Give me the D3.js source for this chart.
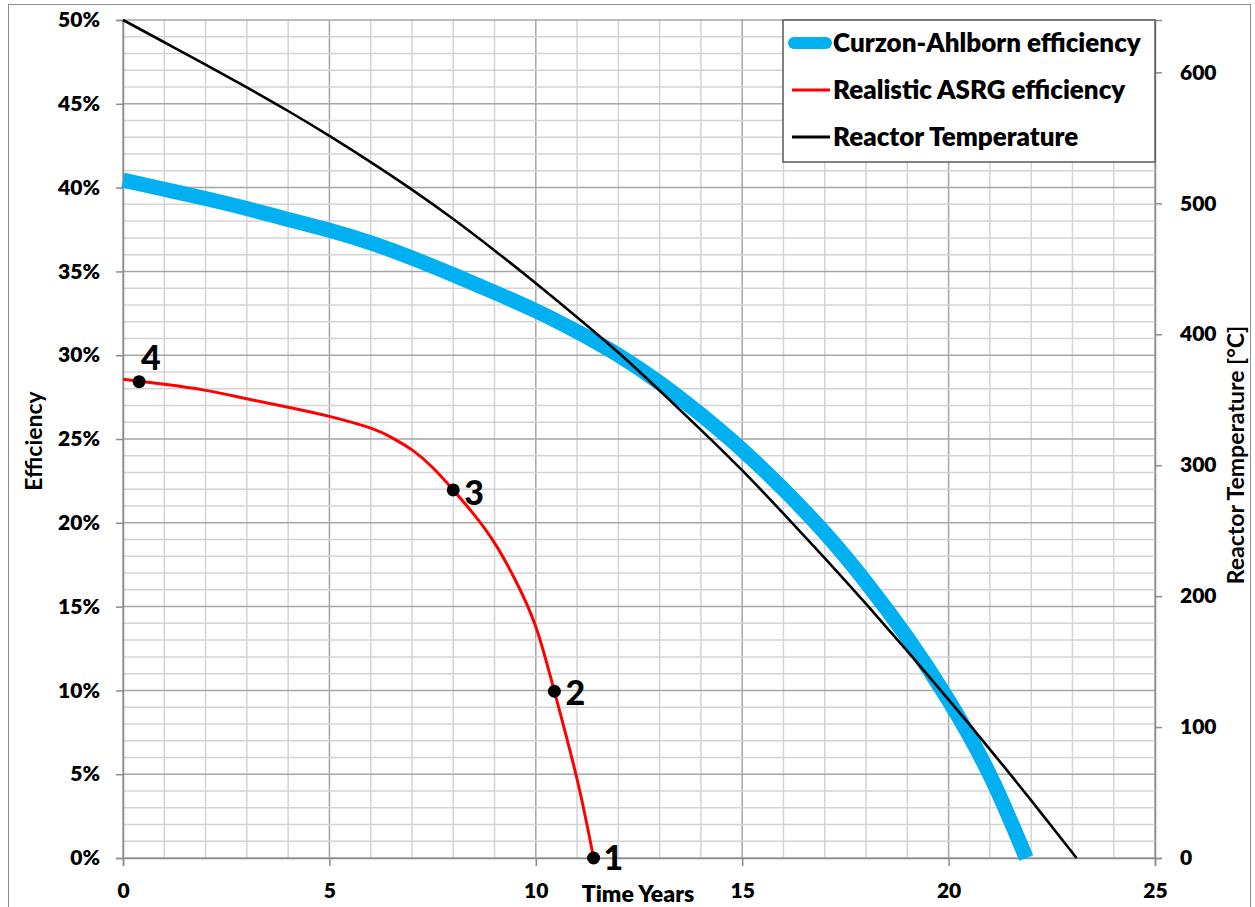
<!DOCTYPE html>
<html><head><meta charset="utf-8">
<script src="https://cdn.jsdelivr.net/npm/d3@7"></script>
<style>body{margin:0;background:#fff}svg{display:block}text{font-family:Lato,'Open Sans',sans-serif;font-weight:800;fill:#000}</style>
</head><body><svg id="c" width="1255" height="907"></svg>
<script>
// time (years) and values
const caTime = [0,1,2,3,4,5,6,7,8,9,10,11,12,13,14,15,16,17,18,19,20,21,21.88];
const caEff  = [40.45,39.9,39.35,38.75,38.1,37.45,36.7,35.8,34.8,33.75,32.65,31.4,30.0,28.35,26.45,24.35,22.0,19.4,16.45,13.15,9.4,4.95,0];
const asrgTime = [0,1,2,3,4,5,6,6.5,7,7.5,8,8.5,9,9.5,10,10.45,11,11.4];
const asrgEff  = [28.56,28.26,27.9,27.4,26.9,26.35,25.65,25.1,24.35,23.3,21.96,20.5,18.8,16.6,13.8,9.95,4.7,0];
const tempTime = [0,1,2,3,4,5,6,7,8,9,10,11,12,13,14,15,16,17,18,19,20,21,22,23.1];
const tempC    = [640,623,606,588.5,570.5,551.5,531.5,510.5,488,464,439,413,386,357,327,296,263,229,194,158,121,83,44,0];
const pointLabels = ["4","3","2","1"];
const pointTime = [0.39,8.0,10.45,11.4];
const pointEff  = [28.42,21.96,9.95,0];
const xTicks = [0,5,10,15,20,25];
const yLTicks = [0,5,10,15,20,25,30,35,40,45,50];
const yRTicks = [0,100,200,300,400,500,600];
const legendLabels = ["Curzon-Ahlborn efficiency","Realistic ASRG efficiency","Reactor Temperature"];
const colors = ["#00B0F0","#FF0000","#000000"];

const svg = d3.select("#c");
const L=123,R=1155,T=20,B=858;
const x = d3.scaleLinear().domain([0,25]).range([L,R]);
const yL = d3.scaleLinear().domain([0,50]).range([B,T]);
const yR = d3.scaleLinear().domain([0,640]).range([B,T]);

// outer border
svg.append("rect").attr("x",8.5).attr("y",4.5).attr("width",1242).attr("height",910)
  .attr("fill","none").attr("stroke","#8c8c8c").attr("stroke-width",1);

// grid
const g = svg.append("g");
d3.range(0,26).forEach(v=>{
  const major = v%5===0;
  g.append("line").attr("x1",x(v)).attr("x2",x(v)).attr("y1",T).attr("y2",B)
   .attr("stroke",major?"#a6a6a6":"#d4d4d4").attr("stroke-width",1.5);
});
d3.range(0,51).forEach(v=>{
  const major = v%5===0;
  g.append("line").attr("x1",L).attr("x2",R).attr("y1",yL(v)).attr("y2",yL(v))
   .attr("stroke",major?"#a6a6a6":"#d4d4d4").attr("stroke-width",1.5);
});

// axes
const ax = svg.append("g").attr("transform",`translate(0,${B})`)
  .call(d3.axisBottom(x).tickValues(xTicks).tickSize(8).tickPadding(17).tickFormat(d3.format("d")));
const ayl = svg.append("g").attr("transform",`translate(${L},0)`)
  .call(d3.axisLeft(yL).tickValues(yLTicks).tickSize(7).tickPadding(16).tickFormat(d=>d+"%"));
const ayr = svg.append("g").attr("transform",`translate(${R},0)`)
  .call(d3.axisRight(yR).tickValues(yRTicks).tickSize(7).tickPadding(18).tickFormat(d3.format("d")));
[ax,ayl,ayr].forEach(a=>{
  a.selectAll("path").attr("stroke","#8c8c8c").attr("stroke-width",1.5);
  a.selectAll("line").attr("stroke","#8c8c8c").attr("stroke-width",1.5);
  a.selectAll("text").style("font-family","Lato,'Open Sans',sans-serif").style("font-weight","800").style("font-size","21px").attr("fill","#000");
});

// series
const lineY = d3.line().curve(d3.curveNatural);
const caPts = caTime.map((t,i)=>[x(t),yL(caEff[i])]);
const asPts = asrgTime.map((t,i)=>[x(t),yL(asrgEff[i])]);
const tPts  = tempTime.map((t,i)=>[x(t),yR(tempC[i])]);
svg.append("path").attr("d",lineY(caPts)).attr("fill","none").attr("stroke",colors[0]).attr("stroke-width",15);
svg.append("path").attr("d",lineY(asPts)).attr("fill","none").attr("stroke",colors[1]).attr("stroke-width",3);
svg.append("path").attr("d",lineY(tPts)).attr("fill","none").attr("stroke",colors[2]).attr("stroke-width",2.6);

// points
pointTime.forEach((t,i)=>{
  svg.append("circle").attr("cx",x(t)).attr("cy",yL(pointEff[i])).attr("r",6.5).attr("fill","#000");
});
const lblOff = [[2,-12],[11,15],[11,14],[10,12]];
pointLabels.forEach((s,i)=>{
  svg.append("text").attr("x",x(pointTime[i])+lblOff[i][0]).attr("y",yL(pointEff[i])+lblOff[i][1])
    .style("font-size","34px").style("font-weight","900").text(s);
});

// axis titles
svg.append("text").attr("transform","translate(42,441) rotate(-90)").attr("text-anchor","middle")
  .style("font-size","23px").style("font-weight","700").text("Efficiency");
svg.append("text").attr("x",638).attr("y",902).attr("text-anchor","middle")
  .style("font-size","23px").text("Time Years");
svg.append("text").attr("transform","translate(1244,455) rotate(-90)").attr("text-anchor","middle")
  .style("font-size","23px").style("font-weight","700").text("Reactor Temperature [°C]");

// legend
const lg = svg.append("g");
lg.append("rect").attr("x",783).attr("y",20).attr("width",372).attr("height",142)
  .attr("fill","#fff").attr("stroke","#595959").attr("stroke-width",1.5);
const ly = [43,90,137];
legendLabels.forEach((s,i)=>{
  lg.append("line").attr("x1",i===0?794:792).attr("x2",i===0?826:830).attr("y1",ly[i]).attr("y2",ly[i])
    .attr("stroke",colors[i]).attr("stroke-width",i===0?12:3).attr("stroke-linecap",i===0?"round":"butt");
  lg.append("text").attr("x",833).attr("y",ly[i]+9).style("font-size","26px").text(s);
});
</script></body></html>
